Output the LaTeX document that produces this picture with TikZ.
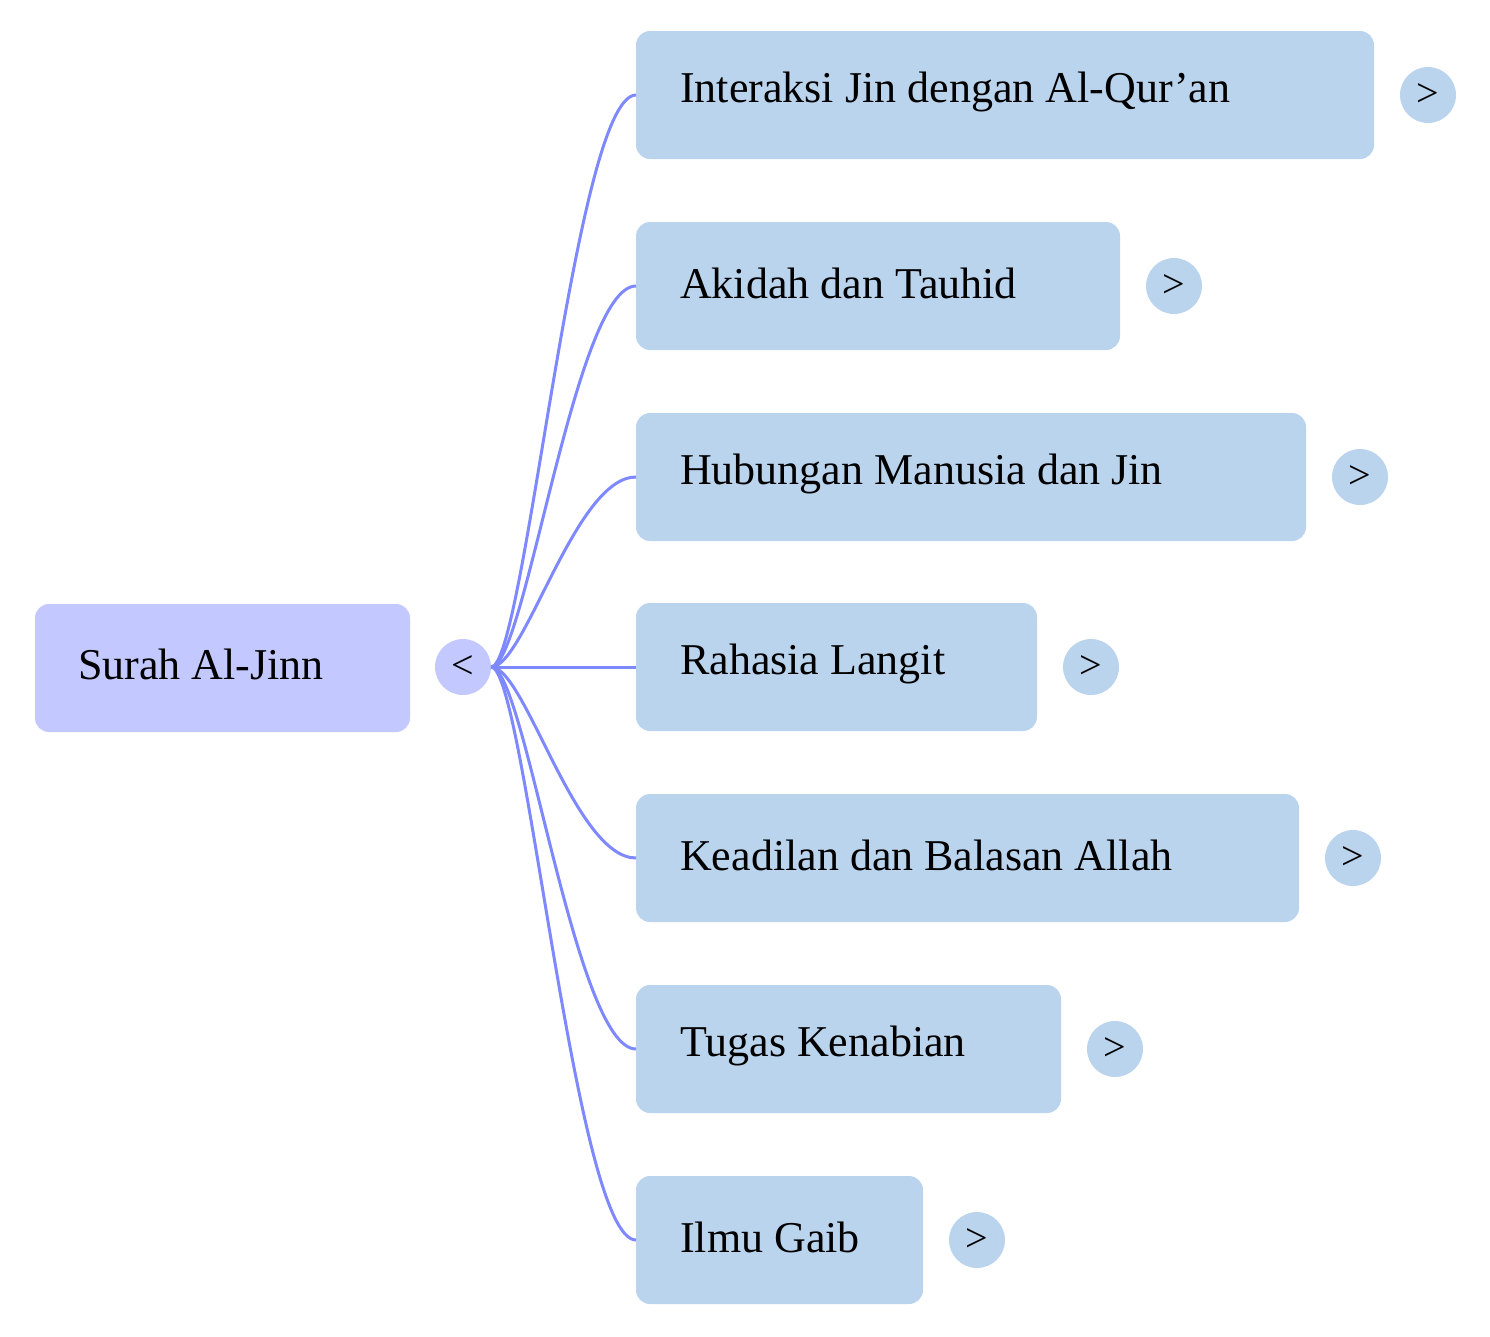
\documentclass[tikz,border=0pt]{standalone}
\usepackage{fontspec}
\setmainfont{Liberation Serif}
\definecolor{rootc}{HTML}{C3C8FF}
\definecolor{childc}{HTML}{BBD4EE}
\definecolor{edgec}{HTML}{7F89FF}
\begin{document}
\begin{tikzpicture}[x=1pt,y=-1pt,
  box/.style={rounded corners=14pt,inner sep=0pt},
  lbl/.style={anchor=west,font=\fontsize{44}{50}\selectfont,inner sep=0pt},
  dot/.style={circle,minimum size=56pt,inner sep=0pt,font=\fontsize{40}{44}\selectfont},
  edge/.style={draw=edgec,line width=3pt}]
\useasboundingbox (0,0) rectangle (1490,1336);
\fill[rootc,box] (35,604) rectangle (410,732);
\node[lbl] (root) at (78,664) {Surah Al-Jinn};
\node[dot,fill=rootc] (rc) at (463,667) {<};
\foreach \i/\y/\r/\t in {1/95/1374/Interaksi Jin dengan Al-Qur'an,2/286/1120/Akidah dan Tauhid,3/477/1306/Hubungan Manusia dan Jin,4/667/1037/Rahasia Langit,5/858/1299/Keadilan dan Balasan Allah,6/1049/1061/Tugas Kenabian,7/1240/923/Ilmu Gaib}{
  \fill[childc,box] (636,\y-64) rectangle (\r,\y+64);
  \node[lbl] (c\i) at (680,\y-3) {\t};
  \coordinate (e\i) at (636,\y);
  \node[dot,fill=childc] (d\i) at (\r+54,\y) {>};
  \draw[edge] (rc.east) .. controls (525,667) and (575,\y) .. (e\i);
}
\end{tikzpicture}
\end{document}
